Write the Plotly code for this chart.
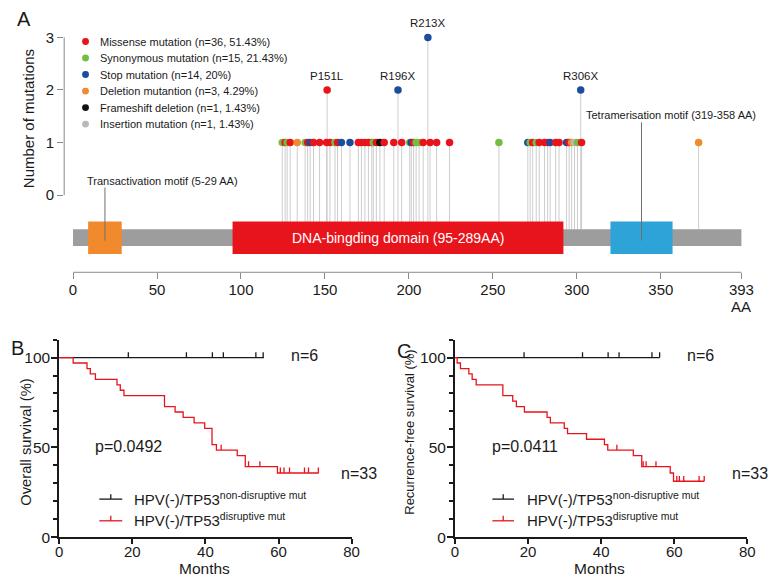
import plotly.graph_objects as go

# the page adds an 8 px body margin, so the figure is drawn 8 px in from the corner
PAGE_W, PAGE_H, EDGE = 777, 586, 8
W, H = PAGE_W - EDGE, PAGE_H - EDGE
FONT = "Liberation Sans, Arial, sans-serif"
INK = "#1a1a1a"


def fx(p):
    # page pixel column -> paper x
    return (p - EDGE) / W


def fy(p):
    # page pixel row -> paper y
    return 1 - (p - EDGE) / H


def label(x, y, text, size, xanchor="center", color=INK, **kw):
    return dict(xref="paper", yref="paper", x=fx(x), y=fy(y), text=text,
                xanchor=xanchor, yanchor="middle", showarrow=False,
                font=dict(size=size, color=color), **kw)


# ---------------- panel A data: TP53 mutations ----------------
mut_labels = ["Missense mutation", "Synonymous mutation", "Stop mutation",
              "Deletion mutantion", "Frameshift deletion", "Insertion mutation"]
mut_codes = ["M", "S", "X", "D", "F", "I"]
mut_n = [36, 15, 14, 3, 1, 1]
mut_pct = ["51.43%", "21.43%", "20%", "4.29%", "1.43%", "1.43%"]
mut_colors = ["#e8141b", "#74bd43", "#1c4c9c", "#f08a2c", "#111111", "#b9b9b9"]

# single-hit sites (amino-acid position, mutation type)
site_aa = [124.6, 126.3, 127.5, 129.3, 133.5, 138.2, 139.7, 141.2, 143.2, 146.8,
           151.0, 153.0, 156.0, 157.5, 159.8, 164.9, 169.9, 171.7, 173.8, 175.9,
           177.9, 178.8, 180.6, 182.7, 185.3, 191.0, 195.7, 200.5, 201.4, 202.8,
           204.3, 206.1, 208.5, 212.6, 216.5, 224.2, 253.6, 270.8, 272.2, 273.7,
           275.8, 277.6, 280.8, 282.6, 284.1, 287.4, 289.4, 293.9, 295.4, 296.9,
           298.6, 300.4, 302.8, 372.5]
site_type = ["S", "M", "S", "M", "D", "S", "M", "X", "M", "M",
             "M", "M", "S", "M", "X", "X", "M", "M", "M", "M",
             "M", "S", "M", "F", "M", "M", "M", "S", "X", "M",
             "S", "S", "M", "M", "M", "M", "S", "X", "S", "M",
             "S", "M", "M", "M", "X", "M", "M", "X", "M", "D",
             "I", "S", "M", "D"]

# recurrent sites
hot_aa = [151.3, 193.5, 211.3, 302.3]
hot_n = [2, 2, 3, 2]
hot_type = ["M", "X", "X", "X"]
hot_label = ["P151L", "R196X", "R213X", "R306X"]

# protein domains
protein_len = 398
dom_start = [9, 95, 320]
dom_end = [29, 292, 357]
dom_colors = ["#f08a2c", "#e8141b", "#2ea3d7"]
dom_text = ["Transactivation motif (5-29 AA)", "DNA-bingding domain (95-289AA)",
            "Tetramerisation motif (319-358 AA)"]
aa_ticks = [0, 50, 100, 150, 200, 250, 300, 350, 398]
aa_ticktext = ["0", "50", "100", "150", "200", "250", "300", "350", "393"]

# ---------------- panel B / C data: Kaplan-Meier ----------------
os_t = [0, 3.8, 7.6, 8.5, 9.9, 15.8, 16.7, 17.7, 28.8, 31.7, 33.9, 36.9, 39.8,
        41.8, 43.0, 48.7, 50.9, 59.7, 71.0]
os_s = [100, 97.0, 93.9, 90.9, 87.9, 84.8, 81.8, 78.8, 72.7, 69.7, 66.7, 63.6,
        60.6, 51.5, 48.5, 45.4, 39.3, 35.7, 35.7]
os_cens = [44.3, 51.8, 54.9, 60.5, 61.5, 63.0, 67.1, 68.2, 70.9]
os_nd_t = [0, 56]
os_nd_s = [100, 100]
os_nd_cens = [18.9, 34.8, 41.9, 44.9, 53.8, 55.8]

rfs_t = [0, 0.6, 1.5, 3.8, 4.7, 5.8, 13.1, 15.8, 16.8, 19.0, 25.2, 26.1, 29.9,
         30.8, 36.0, 40.9, 41.8, 48.8, 51.1, 58.9, 59.8, 68.2]
rfs_s = [100, 97.0, 93.9, 90.9, 87.9, 84.8, 78.8, 75.8, 72.7, 69.7, 66.7, 63.6,
         60.6, 57.6, 54.5, 51.5, 48.5, 45.4, 39.3, 35.7, 31.1, 31.1]
rfs_cens = [44.3, 51.5, 52.3, 55.0, 60.7, 61.4, 62.6, 66.8, 68.2]
rfs_nd_t = [0, 56]
rfs_nd_s = [100, 100]
rfs_nd_cens = [18.9, 34.9, 41.9, 44.9, 53.9, 56.0]

RED = "#e8141b"

# ---------------- geometry (page pixels) ----------------
AA0_PX, PX_PER_AA = 70, 1.706
A_LEFT, A_RIGHT, A_TOP, A_BOT = 61, 772, 12, 276
V0_PX, PX_PER_V = 197.8, 53.33      # pixel row of count 0, pixels per count
BAR_TOP, BAR_BOT = 232.3, 249.3
BOX_TOP, BOX_BOT = 224.5, 257.5
BOX_MID = (BOX_TOP + BOX_BOT) / 2

KM_BOT, KM_TOP = 544.5, 344.3       # rows of 0 % and 110 %
B_X = (56, 353)
C_X = (458, 755)


def aa_at(p):
    return (p - AA0_PX) / PX_PER_AA


stem_base = (V0_PX - BAR_TOP) / PX_PER_V
color_of = dict(zip(mut_codes, mut_colors))

fig = go.Figure()

# stems
sx, sy = [], []
for a in site_aa:
    sx += [a, a, None]
    sy += [stem_base, 1, None]
for a, n in zip(hot_aa, hot_n):
    sx += [a, a, None]
    sy += [stem_base, n, None]
fig.add_trace(go.Scatter(x=sx, y=sy, mode="lines", xaxis="x", yaxis="y",
                         line=dict(color="#cdcdcd", width=1), hoverinfo="skip",
                         showlegend=False))
# heads
fig.add_trace(go.Scatter(
    x=site_aa + hot_aa, y=[1] * len(site_aa) + hot_n, mode="markers",
    xaxis="x", yaxis="y",
    marker=dict(size=7.5, color=[color_of[t] for t in site_type + hot_type],
                line=dict(width=0)),
    showlegend=False))

shapes = []
annotations = []

# protein backbone and domains
shapes.append(dict(type="rect", xref="x", yref="paper", x0=0, x1=protein_len,
                   y0=fy(BAR_BOT), y1=fy(BAR_TOP), fillcolor="#9d9d9d",
                   line=dict(width=0), layer="above"))
for s0, s1, c in zip(dom_start, dom_end, dom_colors):
    shapes.append(dict(type="rect", xref="x", yref="paper", x0=s0, x1=s1,
                       y0=fy(BOX_BOT), y1=fy(BOX_TOP), fillcolor=c,
                       line=dict(width=0), layer="above"))
annotations.append(dict(xref="x", yref="paper", x=(dom_start[1] + dom_end[1]) / 2,
                        y=fy(BOX_MID), text=dom_text[1],
                        xanchor="center", yanchor="middle", showarrow=False,
                        font=dict(size=14, color="white")))
# motif pointers
for i, tx, ty in [(0, 82, 183), (2, 589, 117)]:
    cx = (dom_start[i] + dom_end[i]) / 2
    shapes.append(dict(type="line", xref="x", yref="paper", x0=cx, x1=cx,
                       y0=fy(ty + 7), y1=fy(BOX_MID + 3),
                       line=dict(color="#707070", width=1), layer="above"))
    annotations.append(label(tx, ty, dom_text[i], 11, xanchor="left"))

# hotspot labels
for a, n, lab in zip(hot_aa, hot_n, hot_label):
    annotations.append(dict(xref="x", yref="y", x=a, y=n, yshift=14, text=lab,
                            xanchor="center", yanchor="middle", showarrow=False,
                            font=dict(size=11.5, color=INK)))

# axis lines of panel A
shapes.append(dict(type="line", xref="x", yref="paper", x0=0, x1=aa_ticks[-1],
                   y0=fy(A_BOT), y1=fy(A_BOT), line=dict(color="#8a8a8a", width=1)))
shapes.append(dict(type="line", xref="x domain", yref="y", x0=0, x1=0, y0=0, y1=3,
                   line=dict(color="#8a8a8a", width=1)))
annotations.append(dict(xref="x", yref="paper", x=aa_ticks[-1], y=fy(311),
                        text="AA", xanchor="center", yanchor="middle",
                        showarrow=False, font=dict(size=15, color=INK)))
annotations.append(label(25, 120, "Number of mutations", 15, textangle=-90))

# legend of panel A
for i, (lab, n, pc, c) in enumerate(zip(mut_labels, mut_n, mut_pct, mut_colors)):
    ry = 42 + i * 16.75
    shapes.append(dict(type="circle", xref="paper", yref="paper",
                       x0=fx(79.2), x1=fx(86.2), y0=fy(ry + 3.5), y1=fy(ry - 3.5),
                       fillcolor=c, line=dict(width=0)))
    annotations.append(label(95, ry, f"{lab} (n={n}, {pc})", 11, xanchor="left"))


# ---------------- Kaplan-Meier panels ----------------
def surv_at(t, times, surv):
    s = surv[0]
    for tt, ss in zip(times, surv):
        if tt <= t:
            s = ss
    return s


def km(times, surv, cens, color, xa, ya):
    fig.add_trace(go.Scatter(x=times, y=surv, mode="lines", line_shape="hv",
                             xaxis=xa, yaxis=ya, line=dict(color=color, width=1.3),
                             showlegend=False))
    cx, cy = [], []
    for c in cens:
        s = surv_at(c, times, surv)
        cx += [c, c, None]
        cy += [s, s + 3, None]
    fig.add_trace(go.Scatter(x=cx, y=cy, mode="lines", xaxis=xa, yaxis=ya,
                             line=dict(color=color, width=1.3), showlegend=False))


km(os_nd_t, os_nd_s, os_nd_cens, INK, "x2", "y2")
km(os_t, os_s, os_cens, RED, "x2", "y2")
km(rfs_nd_t, rfs_nd_s, rfs_nd_cens, INK, "x3", "y3")
km(rfs_t, rfs_s, rfs_cens, RED, "x3", "y3")

panels = [
    dict(p="p=0.0492", p_x=90, n6_x=305, n33_x=361,
         ytitle="Overall survival (%)", ytsize=14.7, ytx=22, yty=448,
         lx=(96.7, 120), ltext=130, months_x=204),
    dict(p="p=0.0411", p_x=494, n6_x=707, n33_x=758,
         ytitle="Recurrence-free survival (%)", ytsize=13, ytx=411, yty=438,
         lx=(496, 518), ltext=529, months_x=605),
]
for pn in panels:
    annotations.append(label(pn["p_x"], 453, pn["p"], 16, xanchor="left"))
    annotations.append(label(pn["n6_x"], 360, "n=6", 16))
    annotations.append(label(pn["n33_x"], 480, "n=33", 16))
    annotations.append(label(pn["ytx"], pn["yty"], pn["ytitle"], pn["ytsize"],
                             textangle=-90))
    annotations.append(label(pn["months_x"], 576, "Months", 15.5))
    for ly, col, sup in [(506, INK, "non-disruptive mut"), (528, RED, "disruptive mut")]:
        l0, l1 = pn["lx"]
        shapes.append(dict(type="line", xref="paper", yref="paper", x0=fx(l0), x1=fx(l1),
                           y0=fy(ly), y1=fy(ly), line=dict(color=col, width=1.3)))
        mid = (l0 + l1) / 2
        shapes.append(dict(type="line", xref="paper", yref="paper", x0=fx(mid), x1=fx(mid),
                           y0=fy(ly), y1=fy(ly - 5), line=dict(color=col, width=1.3)))
        annotations.append(label(pn["ltext"], ly - 1, f"HPV(-)/TP53<sup>{sup}</sup>", 15,
                                 xanchor="left"))

for lab, x, y in [("A", 20, 19), ("B", 14, 353), ("C", 406, 356)]:
    annotations.append(label(x, y, lab, 20))

km_x = dict(range=[0, 80], tickvals=[0, 20, 40, 60, 80], showline=True, linewidth=2,
            linecolor=INK, ticks="outside", ticklen=5, tickwidth=2, tickcolor=INK,
            ticklabelstandoff=-5,
            showgrid=False, zeroline=False, tickfont=dict(size=15, color=INK))
km_y = dict(range=[0, 110], tickvals=[0, 50, 100], showline=True, linewidth=2,
            linecolor=INK, ticks="outside", ticklen=6, tickwidth=2, tickcolor=INK,
            ticklabelstandoff=-2,
            minor=dict(dtick=10, tick0=0, ticks="outside", ticklen=4, tickwidth=1.5,
                       tickcolor=INK),
            showgrid=False, zeroline=False, tickfont=dict(size=15.5, color=INK),
            domain=[fy(KM_BOT), fy(KM_TOP)])

fig.update_layout(
    width=W, height=H, margin=dict(l=0, r=0, t=0, b=0),
    paper_bgcolor="white", plot_bgcolor="white",
    font=dict(family=FONT, color=INK),
    xaxis=dict(domain=[fx(A_LEFT), fx(A_RIGHT)], range=[aa_at(A_LEFT), aa_at(A_RIGHT)],
               anchor="y", tickvals=aa_ticks, ticktext=aa_ticktext, ticks="outside",
               ticklen=6, tickcolor="#8a8a8a", ticklabelstandoff=-2, showline=False,
               showgrid=False, zeroline=False, tickfont=dict(size=15, color=INK)),
    yaxis=dict(domain=[fy(A_BOT), fy(A_TOP)],
               range=[(V0_PX - A_BOT) / PX_PER_V, (V0_PX - A_TOP) / PX_PER_V],
               anchor="x", tickvals=[0, 1, 2, 3], ticks="outside", ticklen=6,
               tickcolor="#8a8a8a", showline=False, showgrid=False, zeroline=False,
               tickfont=dict(size=15, color=INK)),
    xaxis2=dict(km_x, domain=[fx(B_X[0]), fx(B_X[1])], anchor="y2"),
    yaxis2=dict(km_y, anchor="x2"),
    xaxis3=dict(km_x, domain=[fx(C_X[0]), fx(C_X[1])], anchor="y3"),
    yaxis3=dict(km_y, anchor="x3"),
    shapes=shapes, annotations=annotations,
)

fig.write_html("out.html")
